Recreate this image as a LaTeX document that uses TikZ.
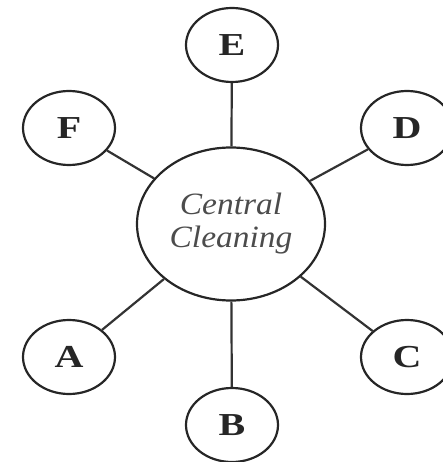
\documentclass[tikz,border=0pt]{standalone}
\usepackage{fontspec}
\setmainfont{Liberation Serif}
\usetikzlibrary{shapes.geometric}
\tikzset{
  leaf/.style={draw, ellipse, line width=2.2pt, draw=black!85, inner sep=0pt, minimum width=92pt, minimum height=74pt, font=\fontsize{32}{36}\selectfont\bfseries, text=black!85},
  hub/.style={draw, ellipse, line width=2.2pt, draw=black!85, inner sep=0pt, minimum width=188pt, minimum height=153pt, align=center, font=\fontsize{31}{36}\selectfont\itshape, text=black!70},
  spoke/.style={line width=2.2pt, black!80}
}
\begin{document}
\begin{tikzpicture}[x=1pt, y=-1pt]
\useasboundingbox (0,0) rectangle (443,462);
\node[hub] (c) at (231,224) {\scalebox{1.08}[1]{Central}\\[-3pt]\scalebox{1.08}[1]{Cleaning}};
\node[leaf] (E) at (232,45) {\scalebox{1.25}[1]{E}};
\node[leaf] (F) at (69,128) {\scalebox{1.25}[1]{F}};
\node[leaf] (D) at (407,128) {\scalebox{1.25}[1]{D}};
\node[leaf] (A) at (69,357) {\scalebox{1.25}[1]{A}};
\node[leaf] (C) at (407,357) {\scalebox{1.25}[1]{C}};
\node[leaf] (B) at (232,425) {\scalebox{1.25}[1]{B}};
\draw[spoke] (c) -- (E);
\draw[spoke] (c) -- (F);
\draw[spoke] (c) -- (D);
\draw[spoke] (c) -- (A);
\draw[spoke] (c) -- (C);
\draw[spoke] (c) -- (B);
\end{tikzpicture}
\end{document}
